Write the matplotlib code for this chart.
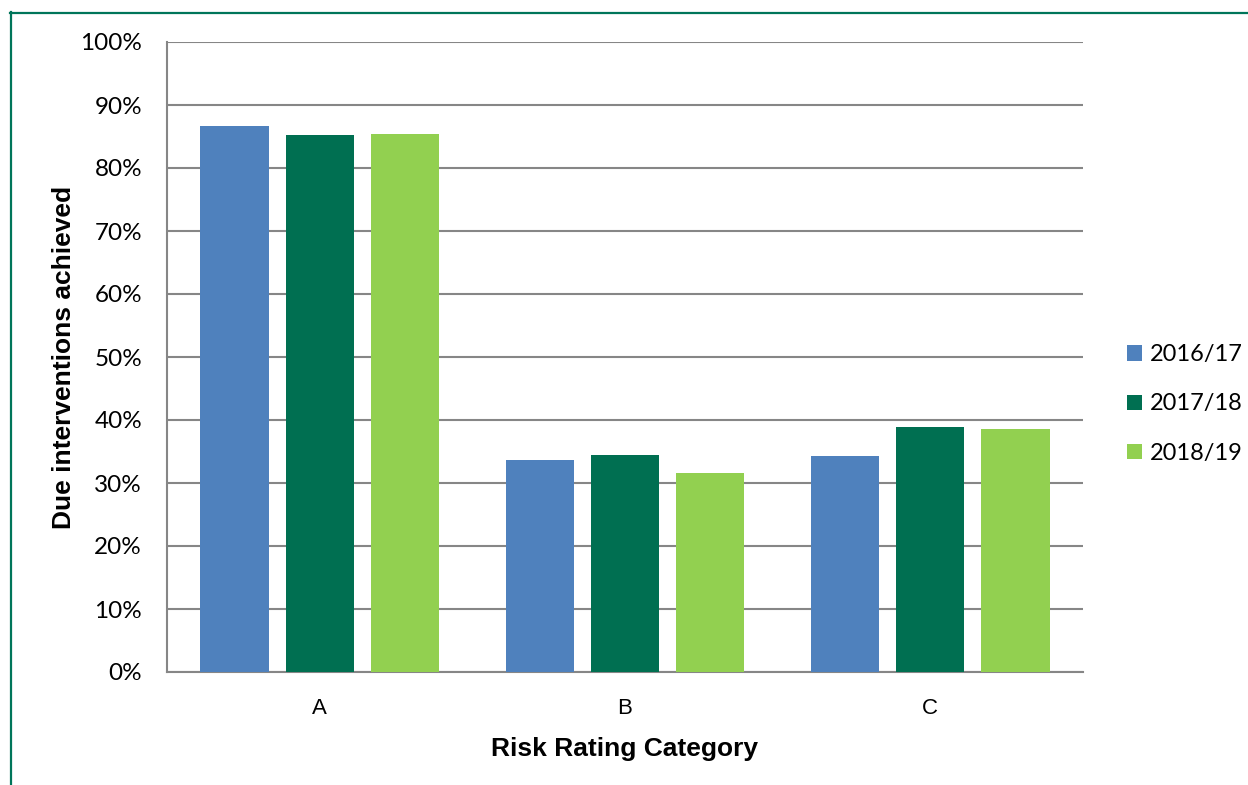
import numpy as np
import matplotlib.pyplot as plt
from matplotlib.lines import Line2D


# data
categories = ['A', 'B', 'C']
years = ['2016/17', '2017/18', '2018/19']
vals_1617 = [86.6, 33.6, 34.3]
vals_1718 = [85.2, 34.4, 38.9]
vals_1819 = [85.4, 31.6, 38.6]

colors = ['#4F81BD', '#006F51', '#92D050']
grid_col = '#868686'

fig = plt.figure(figsize=(12.48, 7.85), dpi=100)
ax = fig.add_axes([167 / 1248, 1 - 672 / 785, 916 / 1248, 630 / 785])

x = np.arange(len(categories))
w = 0.223
step = 0.279
series = [vals_1617, vals_1718, vals_1819]
for j, (vals, lab) in enumerate(zip(series, years)):
    ax.bar(x + (j - 1) * step, vals, width=w, color=colors[j], label=lab, zorder=3)

ax.set_xlim(-0.5, 2.5)
ax.set_ylim(0, 100)
ax.set_yticks(np.arange(0, 101, 10))
ax.set_yticklabels([f'{v}%' for v in range(0, 101, 10)], fontfamily='Lato', fontsize=17.5)
ax.set_xticks(x)
ax.set_xticklabels(categories, fontfamily='Liberation Sans', fontsize=16)
ax.tick_params(axis='y', length=0, pad=18)
ax.tick_params(axis='x', length=0, pad=19)

ax.grid(axis='y', color=grid_col, linewidth=1.5, zorder=0)
for s in ['top', 'right']:
    ax.spines[s].set_visible(False)
for s in ['left', 'bottom']:
    ax.spines[s].set_color(grid_col)
    ax.spines[s].set_linewidth(1.5)

ax.set_xlabel('Risk Rating Category', fontfamily='Liberation Sans', fontsize=19, fontweight='bold')
ax.set_ylabel('Due interventions achieved', fontfamily='Liberation Sans', fontsize=19, fontweight='bold')
ax.xaxis.set_label_coords(0.499, -0.103)
ax.yaxis.set_label_coords(-0.0993, 0.499)

leg = fig.legend(loc='center left', bbox_to_anchor=(1118 / 1248, 1 - 404 / 785),
                 frameon=False, prop={'family': 'Lato', 'size': 17},
                 handlelength=0.62, handleheight=0.62, handletextpad=0.35,
                 labelspacing=1.2, borderaxespad=0)

# green frame on top and left
fig.add_artist(Line2D([10 / 1248, 1], [1 - 12.5 / 785, 1 - 12.5 / 785],
                      transform=fig.transFigure, color='#00755A', linewidth=1.6))
fig.add_artist(Line2D([10.5 / 1248, 10.5 / 1248], [0, 1 - 12 / 785],
                      transform=fig.transFigure, color='#00755A', linewidth=1.6))

fig.savefig('out.png', dpi=100)
